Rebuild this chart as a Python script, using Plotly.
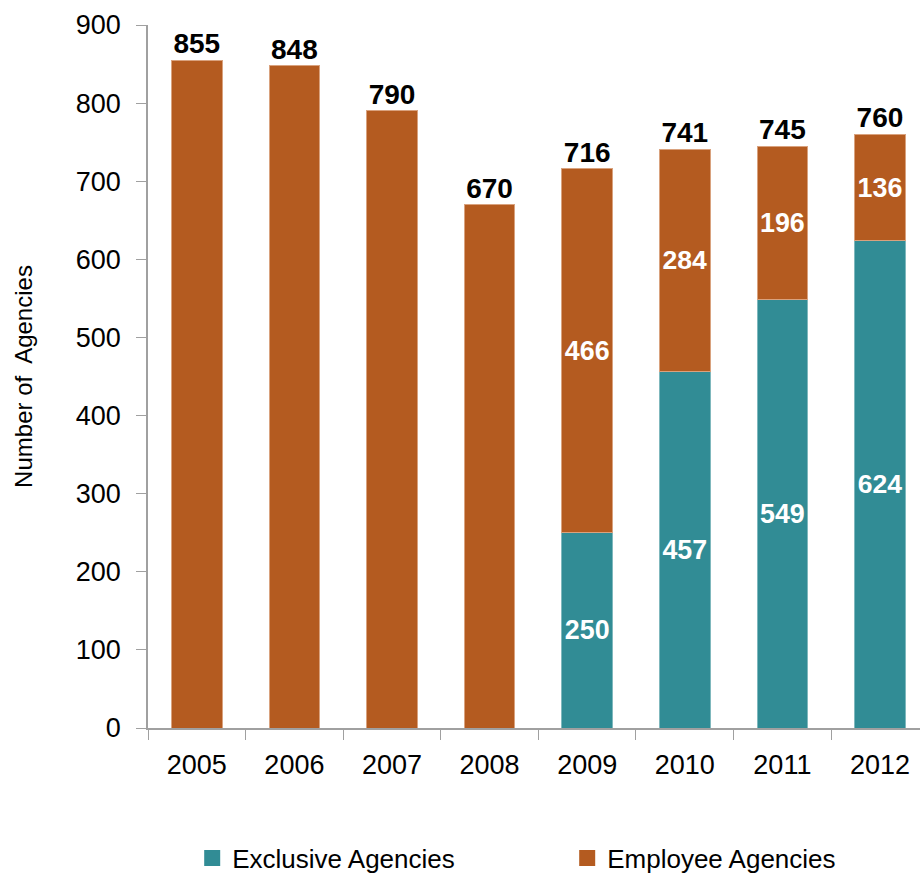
import plotly.graph_objects as go

years = ["2005", "2006", "2007", "2008", "2009", "2010", "2011", "2012"]
exclusive = [None, None, None, None, 250, 457, 549, 624]
employee = [855, 848, 790, 670, 466, 284, 196, 136]
totals = [855, 848, 790, 670, 716, 741, 745, 760]

teal = "#318C95"
orange = "#B45B20"
sans = "Liberation Sans, Arial, sans-serif"

exc_text = ["" if v is None else str(v) for v in exclusive]
emp_text = [str(v) if e is not None else "" for v, e in zip(employee, exclusive)]

fig = go.Figure()
fig.add_trace(go.Bar(
    x=years, y=exclusive, name="Exclusive Agencies",
    marker_color=teal, marker_line_color="#7FB8BD", marker_line_width=1,
    text=exc_text, textposition="inside", insidetextanchor="middle", textangle=0,
    textfont=dict(color="white", size=28, family=sans, weight="bold"),
    showlegend=False,
))
fig.add_trace(go.Bar(
    x=years, y=employee, name="Employee Agencies",
    marker_color=orange, marker_line_color="#D9A27E", marker_line_width=1,
    text=emp_text, textposition="inside", insidetextanchor="middle", textangle=0,
    textfont=dict(color="white", size=28, family=sans, weight="bold"),
    showlegend=False,
))
# totals above each bar
fig.add_trace(go.Scatter(
    x=years, y=totals, mode="text", text=[str(t) for t in totals],
    textposition="top center",
    textfont=dict(color="black", size=28, family=sans, weight="bold"),
    showlegend=False, cliponaxis=False,
))
# legend entries
for name, col in [("Exclusive Agencies", teal), ("Employee Agencies", orange)]:
    fig.add_trace(go.Scatter(
        x=[None], y=[None], mode="markers", name=name,
        marker=dict(symbol="square", size=16, color=col),
    ))

fig.update_layout(
    width=920, height=875,
    margin=dict(l=148, r=0, t=25, b=147, autoexpand=False),
    plot_bgcolor="white", paper_bgcolor="white",
    barmode="stack", bargap=0.48,
    font=dict(family=sans, size=27, color="black"),
    uniformtext=dict(mode=False),
    legend=dict(
        orientation="h", x=0.543, xanchor="center", y=-0.185, yanchor="middle",
        traceorder="normal",
        font=dict(size=26, family=sans),
        entrywidth=330, entrywidthmode="pixels",
        itemsizing="trace",
    ),
)
fig.update_xaxes(
    range=[-0.5, 7.41],
    showline=True, linecolor="#A0A0A0", linewidth=1.5,
    ticks="outside", tickson="boundaries", ticklen=10, tickcolor="#A0A0A0",
    ticklabelstandoff=12,
    tickfont=dict(size=27, family=sans),
)
fig.update_yaxes(
    range=[0, 900], dtick=100,
    showline=True, linecolor="#A0A0A0", linewidth=1.5,
    ticks="outside", ticklen=10, tickcolor="#A0A0A0",
    showgrid=False, zeroline=False,
    ticklabelstandoff=10,
    tickfont=dict(size=27, family=sans),
    title=dict(text="Number of  Agencies",
               font=dict(size=24, family=sans),
               standoff=36),
)

fig.write_html("out.html", config={"displayModeBar": False},
               post_script="document.body.style.margin='0';")
